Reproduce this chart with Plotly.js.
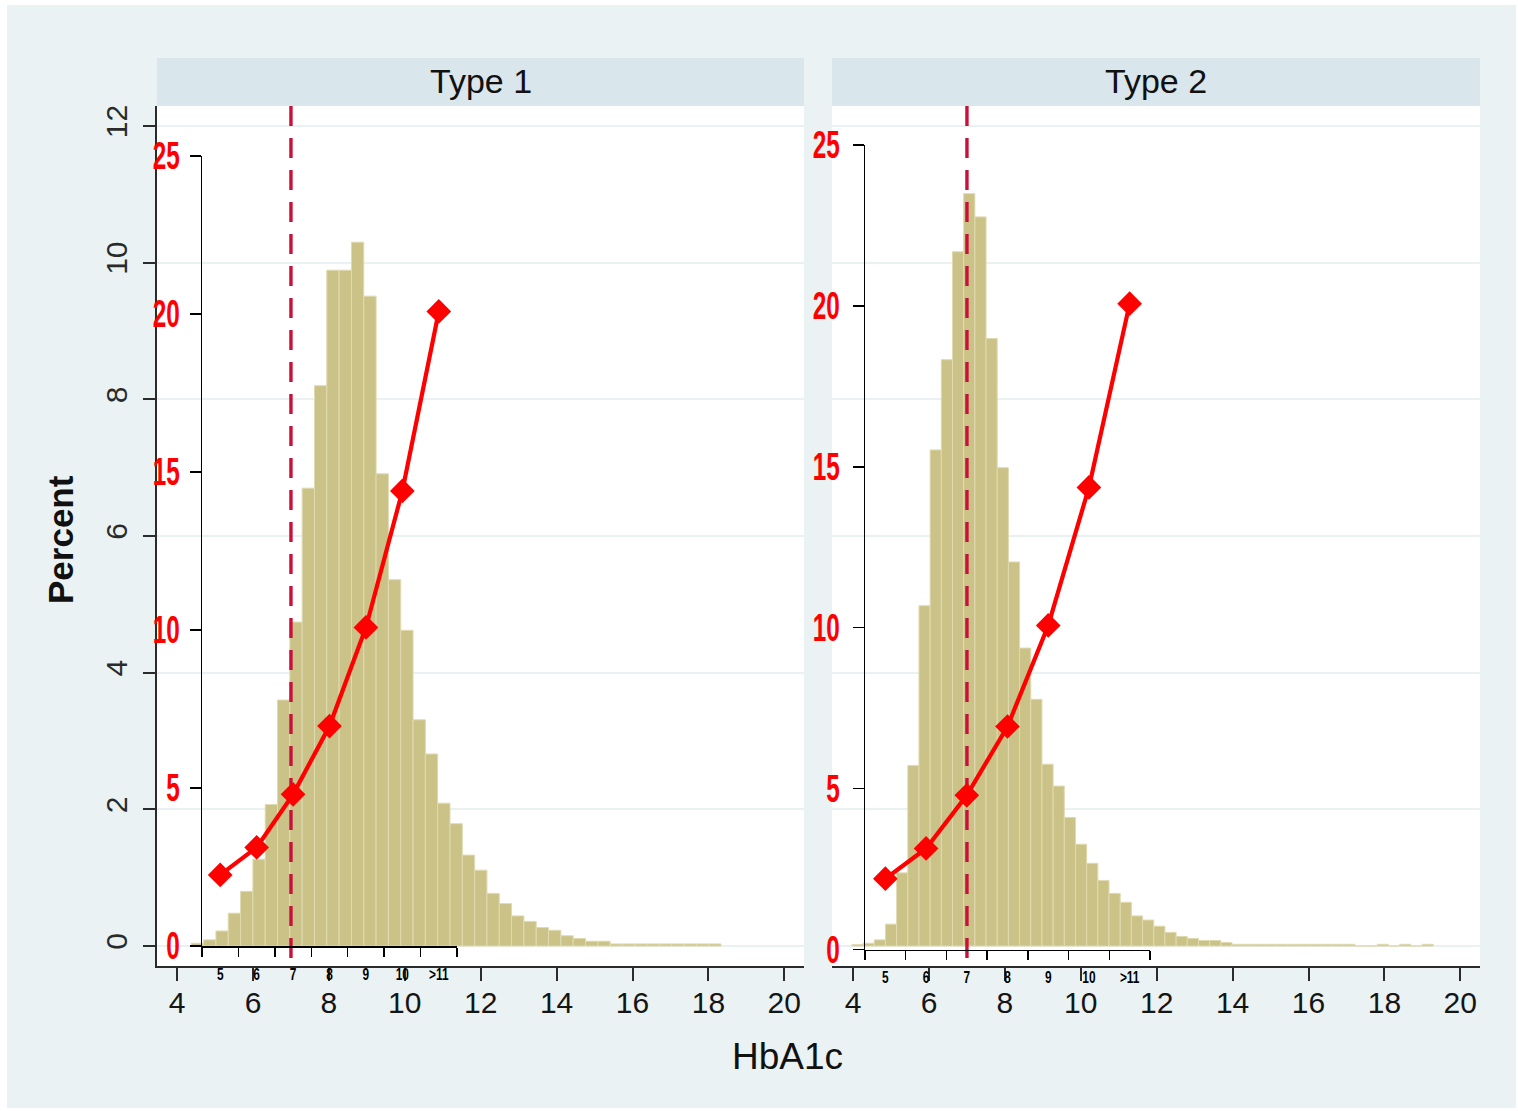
<!DOCTYPE html>
<html><head><meta charset="utf-8">
<script src="https://cdn.plot.ly/plotly-3.0.1.min.js"></script>
<style>html,body{margin:0;padding:0;background:#fff}#chart{width:1518px;height:1111px}</style>
</head><body><div id="chart"></div>
<script>
// ---------- data ----------
const PANEL_TITLES = ['Type 1', 'Type 2'];
const X_TITLE = 'HbA1c';
const Y_TITLE = 'Percent';

// histogram percentages (Type 1), equal-width bins
const T1_PERCENT = [0.04, 0.09, 0.22, 0.48, 0.80, 1.27, 2.07, 3.60, 4.74, 6.70,
  8.20, 9.89, 9.89, 10.30, 9.51, 6.91, 5.36, 4.62, 3.31, 2.81,
  2.09, 1.79, 1.33, 1.11, 0.77, 0.62, 0.44, 0.36, 0.27, 0.23,
  0.15, 0.11, 0.07, 0.07, 0.03, 0.03, 0.03, 0.03, 0.03, 0.03,
  0.03, 0.03, 0.03];
const T1_BIN_START = 4.374;
const T1_BIN_WIDTH = 0.3246;

// histogram percentages (Type 2), equal-width bins
const T2_PERCENT = [0.02, 0.04, 0.09, 0.32, 1.07, 2.64, 4.98, 7.26, 8.58, 10.16,
  11.01, 10.67, 8.89, 7.00, 5.62, 4.36, 3.61, 2.66, 2.34, 1.88,
  1.49, 1.21, 0.96, 0.77, 0.64, 0.44, 0.38, 0.29, 0.20, 0.14,
  0.11, 0.08, 0.08, 0.05, 0.025, 0.025, 0.025, 0.025, 0.025, 0.025,
  0.025, 0.025, 0.025, 0.025, 0.025, 0, 0, 0.025, 0, 0.025,
  0, 0.025];
const T2_BIN_START = 3.968;
const T2_BIN_WIDTH = 0.2946;

// overlay line (secondary axes)
const CATEGORIES = ['5', '6', '7', '8', '9', '10', '>11'];
const T1_RISK = [2.25, 3.12, 4.80, 6.96, 10.08, 14.40, 20.08];
const T2_RISK = [2.20, 3.14, 4.79, 6.93, 10.07, 14.36, 20.07];

const TARGET = 7;
const X_TICKS = [4, 6, 8, 10, 12, 14, 16, 18, 20];
const Y_TICKS = [0, 2, 4, 6, 8, 10, 12];
const RISK_TICKS = [0, 5, 10, 15, 20, 25];

// ---------- layout helpers ----------
const W = 1518, H = 1111;
const px = x => x / W;
const py = y => 1 - y / H;
const Y_RANGE = [-0.2927, 12.293];
const FONT = 'Liberation Sans, Arial, sans-serif';
const BAR_COLOR = 'rgb(202,194,134)';
const BAR_LINE = 'rgb(224,218,176)';
const GRID = '#E9F1F3';
const AXIS = '#2b2b2b';

const traces = [];
[[T1_PERCENT, T1_BIN_START, T1_BIN_WIDTH, 'x', 'y'],
 [T2_PERCENT, T2_BIN_START, T2_BIN_WIDTH, 'x2', 'y2']].forEach(([vals, start, w, xa, ya]) => {
  traces.push({
    type: 'bar', y: vals, x0: start + w / 2, dx: w, width: w,
    xaxis: xa, yaxis: ya,
    marker: {color: BAR_COLOR, line: {color: BAR_LINE, width: 1}},
    hoverinfo: 'skip', showlegend: false
  });
  traces.push({
    type: 'scatter', mode: 'lines', x: [TARGET, TARGET], y: [Y_RANGE[1], Y_RANGE[0] + 0.06],
    xaxis: xa, yaxis: ya,
    line: {color: '#C8103A', width: 3.4, dash: '20px,12px'},
    hoverinfo: 'skip', showlegend: false
  });
});
[[T1_RISK, 'x3', 'y3'], [T2_RISK, 'x4', 'y4']].forEach(([vals, xa, ya]) => {
  traces.push({
    type: 'scatter', mode: 'lines+markers', x: CATEGORIES, y: vals,
    xaxis: xa, yaxis: ya, cliponaxis: false,
    line: {color: '#FF0000', width: 4.2},
    marker: {symbol: 'diamond', size: 19, color: '#FF0000'},
    hoverinfo: 'skip', showlegend: false
  });
});

const mainX = (d, r) => ({
  domain: d, range: r, tickvals: X_TICKS, ticks: 'outside', ticklen: 13, tickwidth: 2,
  tickcolor: AXIS, showline: true, linecolor: AXIS, linewidth: 2, showgrid: false,
  zeroline: false, tickfont: {family: FONT, size: 30, color: '#151515'},
  ticklabelstandoff: -4, fixedrange: true
});
const mainY = (anchor, show) => ({
  domain: [py(966), py(106)], range: Y_RANGE, anchor: anchor, tickvals: Y_TICKS,
  ticks: show ? 'outside' : '', ticklen: 12, tickwidth: 2, tickcolor: AXIS,
  showline: show, linecolor: AXIS, linewidth: 2, showticklabels: show, tickangle: -90,
  tickfont: {family: FONT, size: 30, color: '#2a2a2a'}, ticklabelstandoff: 4,
  showgrid: true, gridcolor: GRID, gridwidth: 2,
  zeroline: true, zerolinecolor: GRID, zerolinewidth: 2, fixedrange: true
});
const ovX = (d, anchor) => ({
  domain: d, anchor: anchor, type: 'category', categoryorder: 'array', categoryarray: CATEGORIES,
  range: [-0.5, CATEGORIES.length - 0.5], tickson: 'boundaries', ticks: 'outside', ticklen: 9,
  tickwidth: 1.5, tickcolor: '#000', showline: true, linecolor: '#000', linewidth: 1.5,
  showgrid: false, zeroline: false, tickangle: 0, ticklabelstandoff: 12,
  tickfont: {family: FONT, size: 17, color: '#000', weight: 'bold'}, fixedrange: true
});
const ovY = (d, anchor, standoff) => ({
  domain: d, anchor: anchor, range: [0, 25], tickvals: RISK_TICKS, ticks: 'outside', ticklen: 11,
  tickwidth: 1.5, tickcolor: '#000', showline: true, linecolor: '#000', linewidth: 1.5,
  showgrid: false, zeroline: false, ticklabelstandoff: standoff,
  tickfont: {family: FONT, size: 38, color: '#FF0000', weight: 'bold'}, fixedrange: true
});

const rect = (x0, y0, x1, y1, color) => ({
  type: 'rect', xref: 'paper', yref: 'paper', x0: px(x0), x1: px(x1), y0: py(y1), y1: py(y0),
  fillcolor: color, line: {width: 0}, layer: 'below'
});

const ann = (text, x, y, size, extra) => Object.assign({
  text: text, x: px(x), y: py(y), xref: 'paper', yref: 'paper', showarrow: false,
  xanchor: 'center', yanchor: 'middle', font: {family: FONT, size: size, color: '#111'}
}, extra || {});

const layout = {
  width: W, height: H, margin: {l: 0, r: 0, t: 0, b: 0},
  paper_bgcolor: '#FFFFFF', plot_bgcolor: 'rgba(0,0,0,0)',
  showlegend: false, bargap: 0,
  xaxis: Object.assign(mainX([px(157), px(804)], [3.470, 20.519]), {anchor: 'y'}),
  yaxis: mainY('x', true),
  xaxis2: Object.assign(mainX([px(832), px(1480)], [3.444, 20.519]), {anchor: 'y2'}),
  yaxis2: mainY('x2', false),
  xaxis3: ovX([px(202), px(457)], 'y3'),
  yaxis3: ovY([py(946), py(156)], 'x3', 2),
  xaxis4: ovX([px(865), px(1150)], 'y4'),
  yaxis4: ovY([py(949.5), py(145)], 'x4', 5),
  shapes: [
    rect(7, 5, 1516, 1108, '#EAF2F3'),
    rect(157, 106, 804, 966, '#FFFFFF'),
    rect(832, 106, 1480, 966, '#FFFFFF'),
    rect(157, 58, 804, 106, '#D9E6EB'),
    rect(832, 58, 1480, 106, '#D9E6EB')
  ],
  annotations: [
    ann(PANEL_TITLES[0], 480.5, 81, 34),
    ann(PANEL_TITLES[1], 1156, 81, 34),
    ann(X_TITLE, 787, 1056, 37),
    ann(Y_TITLE, 60, 540, 35, {textangle: -90, font: {family: FONT, size: 35, color: '#111', weight: 'bold'}})
  ]
};

// condense tick text horizontally (narrow bold face of the original)
function condense(selector, sx, originRight) {
  document.querySelectorAll(selector).forEach(t => {
    const b = t.getBBox();
    const ox = originRight ? b.x + b.width : b.x + b.width / 2;
    const oy = b.y + b.height / 2;
    const old = t.getAttribute('transform') || '';
    t.setAttribute('transform', old + ' translate(' + ox + ',' + oy + ') scale(' + sx + ',1) translate(' + (-ox) + ',' + (-oy) + ')');
  });
}

Plotly.newPlot('chart', traces, layout, {staticPlot: true, displayModeBar: false}).then(() => {
  condense('.y3tick text, .y4tick text', 0.64, true);
  condense('.x3tick text, .x4tick text', 0.7, false);
});
</script>
</body></html>
